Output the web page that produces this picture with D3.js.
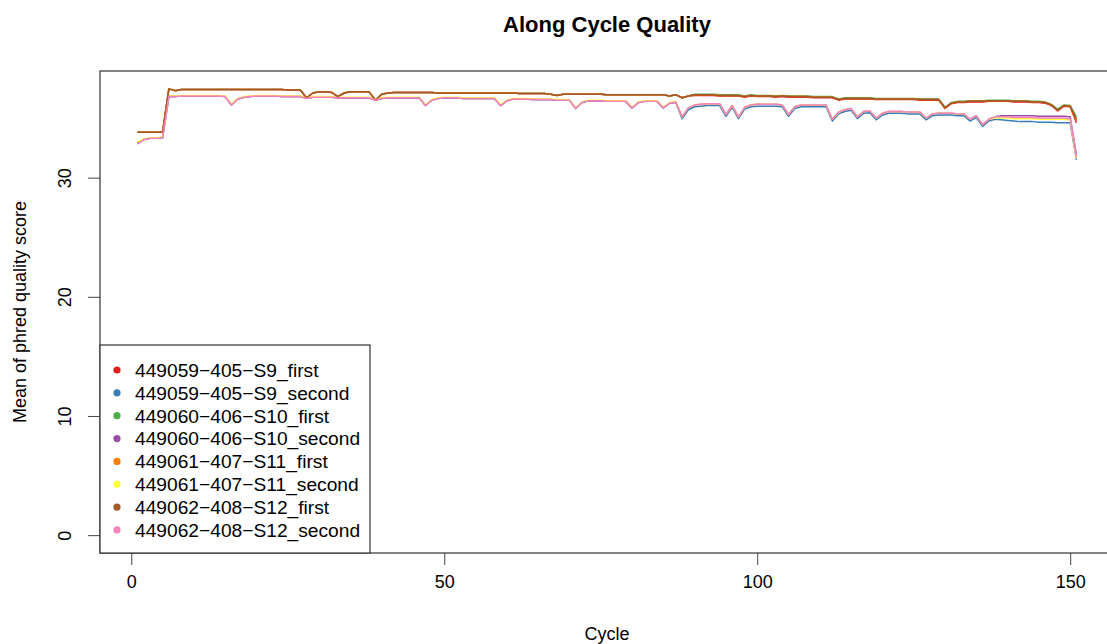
<!DOCTYPE html>
<html>
<head>
<meta charset="utf-8">
<script src="https://cdn.jsdelivr.net/npm/d3@7"></script>
<style>
    body { margin: 0; background: #fff; }
    text { font-family: "Liberation Sans", Arial, Helvetica, sans-serif; fill: #000; }
</style>
</head>
<body>
<div id="chart"></div>
<script>
const width = 1107,
    height = 644;

// Mean phred quality per cycle (cycles 1..151), one array per sample read
const red_first = [
    33.8, 33.8, 33.8, 33.8, 33.8, 37.45, 37.3, 37.4, 37.4, 37.4,
    37.4, 37.4, 37.4, 37.4, 37.4, 37.4, 37.4, 37.4, 37.4, 37.4,
    37.4, 37.4, 37.4, 37.4, 37.35, 37.35, 37.35, 36.7, 37.1, 37.2,
    37.2, 37.15, 36.8, 37.1, 37.2, 37.2, 37.2, 37.2, 36.5, 37.0,
    37.1, 37.15, 37.15, 37.15, 37.15, 37.15, 37.15, 37.15, 37.1, 37.1,
    37.1, 37.1, 37.1, 37.1, 37.1, 37.1, 37.1, 37.1, 37.1, 37.1,
    37.1, 37.05, 37.05, 37.05, 37.05, 37.05, 37.0, 36.9, 37.0, 37.0,
    37.0, 37.0, 37.0, 37.0, 37.0, 36.95, 36.95, 36.95, 36.95, 36.95,
    36.95, 36.95, 36.95, 36.95, 36.95, 36.85, 36.95, 36.7, 36.85, 36.9,
    36.9, 36.9, 36.9, 36.85, 36.85, 36.85, 36.85, 36.75, 36.85, 36.8,
    36.8, 36.8, 36.75, 36.8, 36.75, 36.75, 36.75, 36.75, 36.7, 36.7,
    36.7, 36.7, 36.5, 36.6, 36.6, 36.6, 36.6, 36.6, 36.55, 36.55,
    36.55, 36.55, 36.55, 36.55, 36.55, 36.5, 36.5, 36.5, 36.5, 35.8,
    36.2, 36.3, 36.3, 36.35, 36.35, 36.35, 36.4, 36.4, 36.4, 36.4,
    36.35, 36.35, 36.35, 36.3, 36.3, 36.25, 36.05, 35.6, 36.0, 35.95,
    34.6];
const blue_second = [
    32.9, 33.2, 33.3, 33.3, 33.35, 36.8, 36.8, 36.85, 36.85, 36.85,
    36.85, 36.85, 36.85, 36.85, 36.8, 36.1, 36.6, 36.75, 36.8, 36.85,
    36.85, 36.85, 36.85, 36.8, 36.8, 36.8, 36.8, 36.65, 36.75, 36.75,
    36.75, 36.75, 36.7, 36.7, 36.7, 36.7, 36.7, 36.7, 36.5, 36.65,
    36.7, 36.7, 36.7, 36.7, 36.7, 36.7, 36.05, 36.5, 36.65, 36.7,
    36.7, 36.7, 36.65, 36.65, 36.65, 36.65, 36.65, 36.65, 36.05, 36.45,
    36.6, 36.6, 36.6, 36.55, 36.55, 36.55, 36.55, 36.5, 36.5, 36.5,
    35.8, 36.3, 36.45, 36.45, 36.45, 36.4, 36.4, 36.4, 36.4, 35.85,
    36.3, 36.4, 36.4, 36.4, 35.85, 36.25, 36.3, 34.95, 35.7, 35.95,
    36.0, 36.05, 36.05, 36.05, 35.15, 35.9, 34.95, 35.75, 35.95, 36.0,
    36.0, 36.0, 36.0, 35.95, 35.15, 35.8, 35.95, 35.95, 35.95, 35.95,
    35.95, 34.75, 35.35, 35.55, 35.65, 34.95, 35.4, 35.45, 34.85, 35.25,
    35.4, 35.4, 35.4, 35.35, 35.35, 35.35, 34.85, 35.2, 35.25, 35.25,
    35.25, 35.2, 35.2, 34.75, 35.05, 34.3, 34.75, 34.9, 34.85, 34.8,
    34.75, 34.7, 34.7, 34.7, 34.65, 34.65, 34.65, 34.6, 34.6, 34.6,
    31.5];
const green_first = [
    33.8, 33.8, 33.8, 33.8, 33.8, 37.45, 37.3, 37.4, 37.4, 37.4,
    37.4, 37.4, 37.4, 37.4, 37.4, 37.4, 37.4, 37.4, 37.4, 37.4,
    37.4, 37.4, 37.4, 37.4, 37.35, 37.35, 37.35, 36.7, 37.1, 37.2,
    37.2, 37.15, 36.8, 37.1, 37.2, 37.2, 37.2, 37.2, 36.5, 37.0,
    37.1, 37.15, 37.15, 37.15, 37.15, 37.15, 37.15, 37.15, 37.1, 37.1,
    37.1, 37.1, 37.1, 37.1, 37.1, 37.1, 37.1, 37.1, 37.1, 37.1,
    37.1, 37.05, 37.05, 37.05, 37.05, 37.05, 37.0, 36.9, 37.0, 37.0,
    37.0, 37.0, 37.0, 37.0, 37.0, 36.95, 36.95, 36.95, 36.95, 36.95,
    36.95, 36.95, 36.95, 36.95, 36.95, 36.85, 36.95, 36.7, 36.85, 37.0,
    37.0, 37.0, 37.0, 36.95, 36.95, 36.95, 36.95, 36.85, 36.95, 36.9,
    36.9, 36.9, 36.85, 36.9, 36.85, 36.85, 36.85, 36.85, 36.8, 36.8,
    36.8, 36.8, 36.6, 36.7, 36.7, 36.7, 36.7, 36.7, 36.65, 36.65,
    36.65, 36.65, 36.65, 36.65, 36.65, 36.6, 36.6, 36.6, 36.6, 35.9,
    36.3, 36.4, 36.4, 36.45, 36.45, 36.45, 36.5, 36.5, 36.5, 36.5,
    36.45, 36.45, 36.45, 36.4, 36.4, 36.35, 36.15, 35.75, 36.1, 36.05,
    35.1];
const purple_second = [
    32.9, 33.2, 33.3, 33.3, 33.35, 36.8, 36.8, 36.85, 36.85, 36.85,
    36.85, 36.85, 36.85, 36.85, 36.8, 36.1, 36.6, 36.75, 36.8, 36.85,
    36.85, 36.85, 36.85, 36.8, 36.8, 36.8, 36.8, 36.65, 36.75, 36.75,
    36.75, 36.75, 36.7, 36.7, 36.7, 36.7, 36.7, 36.7, 36.5, 36.65,
    36.7, 36.7, 36.7, 36.7, 36.7, 36.7, 36.05, 36.5, 36.65, 36.7,
    36.7, 36.7, 36.65, 36.65, 36.65, 36.65, 36.65, 36.65, 36.05, 36.45,
    36.6, 36.6, 36.6, 36.55, 36.55, 36.55, 36.55, 36.5, 36.5, 36.5,
    35.8, 36.3, 36.45, 36.45, 36.45, 36.4, 36.4, 36.4, 36.4, 35.85,
    36.3, 36.4, 36.4, 36.4, 35.85, 36.25, 36.35, 35.1, 35.85, 36.1,
    36.15, 36.2, 36.2, 36.2, 35.3, 36.05, 35.1, 35.9, 36.1, 36.15,
    36.15, 36.15, 36.15, 36.1, 35.3, 35.95, 36.1, 36.1, 36.1, 36.1,
    36.1, 34.9, 35.5, 35.7, 35.8, 35.1, 35.55, 35.6, 35.0, 35.4,
    35.55, 35.55, 35.55, 35.5, 35.5, 35.5, 35.0, 35.35, 35.4, 35.4,
    35.4, 35.35, 35.35, 34.9, 35.2, 34.45, 34.9, 35.1, 35.2, 35.2,
    35.2, 35.2, 35.2, 35.2, 35.15, 35.15, 35.15, 35.15, 35.15, 35.1,
    31.9];
const orange_first = [
    33.8, 33.8, 33.8, 33.8, 33.8, 37.45, 37.3, 37.4, 37.4, 37.4,
    37.4, 37.4, 37.4, 37.4, 37.4, 37.4, 37.4, 37.4, 37.4, 37.4,
    37.4, 37.4, 37.4, 37.4, 37.35, 37.35, 37.35, 36.7, 37.1, 37.2,
    37.2, 37.15, 36.8, 37.1, 37.2, 37.2, 37.2, 37.2, 36.5, 37.0,
    37.1, 37.15, 37.15, 37.15, 37.15, 37.15, 37.15, 37.15, 37.1, 37.1,
    37.1, 37.1, 37.1, 37.1, 37.1, 37.1, 37.1, 37.1, 37.1, 37.1,
    37.1, 37.05, 37.05, 37.05, 37.05, 37.05, 37.0, 36.9, 37.0, 37.0,
    37.0, 37.0, 37.0, 37.0, 37.0, 36.95, 36.95, 36.95, 36.95, 36.95,
    36.95, 36.95, 36.95, 36.95, 36.95, 36.85, 36.95, 36.7, 36.85, 36.95,
    36.95, 36.95, 36.95, 36.9, 36.9, 36.9, 36.9, 36.8, 36.9, 36.85,
    36.85, 36.85, 36.8, 36.85, 36.8, 36.8, 36.8, 36.8, 36.75, 36.75,
    36.75, 36.75, 36.55, 36.65, 36.65, 36.65, 36.65, 36.65, 36.6, 36.6,
    36.6, 36.6, 36.6, 36.6, 36.6, 36.55, 36.55, 36.55, 36.55, 35.85,
    36.25, 36.35, 36.35, 36.4, 36.4, 36.4, 36.45, 36.45, 36.45, 36.45,
    36.4, 36.4, 36.4, 36.35, 36.35, 36.3, 36.1, 35.65, 36.05, 36.0,
    34.8];
const yellow_second = [
    33.0, 33.25, 33.35, 33.35, 33.4, 36.85, 36.85, 36.9, 36.9, 36.9,
    36.9, 36.9, 36.9, 36.9, 36.85, 36.15, 36.65, 36.8, 36.85, 36.9,
    36.9, 36.9, 36.9, 36.85, 36.85, 36.85, 36.85, 36.7, 36.8, 36.8,
    36.8, 36.8, 36.75, 36.75, 36.75, 36.75, 36.75, 36.75, 36.55, 36.7,
    36.75, 36.75, 36.75, 36.75, 36.75, 36.75, 36.1, 36.55, 36.7, 36.75,
    36.75, 36.75, 36.7, 36.7, 36.7, 36.7, 36.7, 36.7, 36.1, 36.5,
    36.65, 36.65, 36.65, 36.6, 36.6, 36.6, 36.6, 36.55, 36.55, 36.55,
    35.85, 36.35, 36.5, 36.5, 36.5, 36.45, 36.45, 36.45, 36.45, 35.9,
    36.35, 36.45, 36.45, 36.45, 35.9, 36.3, 36.4, 35.1, 35.85, 36.1,
    36.15, 36.2, 36.2, 36.2, 35.3, 36.05, 35.1, 35.9, 36.1, 36.15,
    36.15, 36.15, 36.15, 36.1, 35.3, 35.95, 36.1, 36.1, 36.1, 36.1,
    36.1, 34.9, 35.5, 35.7, 35.8, 35.1, 35.55, 35.6, 35.0, 35.4,
    35.55, 35.55, 35.55, 35.5, 35.5, 35.5, 35.0, 35.35, 35.4, 35.4,
    35.4, 35.35, 35.35, 34.9, 35.2, 34.45, 34.9, 35.0, 35.0, 35.0,
    34.95, 34.95, 34.95, 34.95, 34.9, 34.9, 34.9, 34.9, 34.9, 34.85,
    31.6];
const brown_first = [
    33.8, 33.8, 33.8, 33.8, 33.8, 37.45, 37.3, 37.4, 37.4, 37.4,
    37.4, 37.4, 37.4, 37.4, 37.4, 37.4, 37.4, 37.4, 37.4, 37.4,
    37.4, 37.4, 37.4, 37.4, 37.35, 37.35, 37.35, 36.7, 37.1, 37.2,
    37.2, 37.15, 36.8, 37.1, 37.2, 37.2, 37.2, 37.2, 36.5, 37.0,
    37.1, 37.15, 37.15, 37.15, 37.15, 37.15, 37.15, 37.15, 37.1, 37.1,
    37.1, 37.1, 37.1, 37.1, 37.1, 37.1, 37.1, 37.1, 37.1, 37.1,
    37.1, 37.05, 37.05, 37.05, 37.05, 37.05, 37.0, 36.9, 37.0, 37.0,
    37.0, 37.0, 37.0, 37.0, 37.0, 36.95, 36.95, 36.95, 36.95, 36.95,
    36.95, 36.95, 36.95, 36.95, 36.95, 36.85, 36.95, 36.7, 36.85, 36.95,
    36.95, 36.95, 36.95, 36.9, 36.9, 36.9, 36.9, 36.8, 36.9, 36.85,
    36.85, 36.85, 36.8, 36.85, 36.8, 36.8, 36.8, 36.8, 36.75, 36.75,
    36.75, 36.75, 36.55, 36.65, 36.65, 36.65, 36.65, 36.65, 36.6, 36.6,
    36.6, 36.6, 36.6, 36.6, 36.6, 36.55, 36.55, 36.55, 36.55, 35.85,
    36.25, 36.35, 36.35, 36.4, 36.4, 36.4, 36.45, 36.45, 36.45, 36.45,
    36.4, 36.4, 36.4, 36.35, 36.35, 36.3, 36.1, 35.65, 36.05, 36.0,
    34.9];
const pink_second = [
    32.8, 33.2, 33.3, 33.3, 33.35, 36.8, 36.8, 36.85, 36.85, 36.85,
    36.85, 36.85, 36.85, 36.85, 36.8, 36.1, 36.6, 36.75, 36.8, 36.85,
    36.85, 36.85, 36.85, 36.8, 36.8, 36.8, 36.8, 36.65, 36.75, 36.75,
    36.75, 36.75, 36.7, 36.7, 36.7, 36.7, 36.7, 36.7, 36.5, 36.65,
    36.7, 36.7, 36.7, 36.7, 36.7, 36.7, 36.05, 36.5, 36.65, 36.7,
    36.7, 36.7, 36.65, 36.65, 36.65, 36.65, 36.65, 36.65, 36.05, 36.45,
    36.6, 36.6, 36.6, 36.55, 36.55, 36.55, 36.55, 36.5, 36.5, 36.5,
    35.8, 36.3, 36.45, 36.45, 36.45, 36.4, 36.4, 36.4, 36.4, 35.85,
    36.3, 36.4, 36.4, 36.4, 35.85, 36.25, 36.35, 35.1, 35.85, 36.1,
    36.15, 36.2, 36.2, 36.2, 35.3, 36.05, 35.1, 35.9, 36.1, 36.15,
    36.15, 36.15, 36.15, 36.1, 35.3, 35.95, 36.1, 36.1, 36.1, 36.1,
    36.1, 34.9, 35.5, 35.7, 35.8, 35.1, 35.55, 35.6, 35.0, 35.4,
    35.55, 35.55, 35.55, 35.5, 35.5, 35.5, 35.0, 35.35, 35.4, 35.4,
    35.4, 35.35, 35.35, 34.9, 35.2, 34.45, 34.9, 35.1, 35.1, 35.1,
    35.05, 35.05, 35.05, 35.05, 35.0, 35.0, 35.0, 35.0, 35.0, 34.95,
    31.7];

const sampleNames = [
    "449059-405-S9_first", "449059-405-S9_second",
    "449060-406-S10_first", "449060-406-S10_second",
    "449061-407-S11_first", "449061-407-S11_second",
    "449062-408-S12_first", "449062-408-S12_second"];
const sampleValues = [red_first, blue_second, green_first, purple_second,
    orange_first, yellow_second, brown_first, pink_second];
// RColorBrewer Set1
const sampleColors = ["#E41A1C", "#377EB8", "#4DAF4A", "#984EA3",
    "#FF7F00", "#FFFF33", "#A65628", "#F781BF"];

const xTicks = [0, 50, 100, 150];
const yTicks = [0, 10, 20, 30];

const margin = {left: 100, top: 71, right: 1114, bottom: 553};

let svg = d3.select('#chart').append('svg')
    .attr('width', width)
    .attr('height', height);

// R style limits: data range padded by 4% on each side
let x = d3.scaleLinear()
    .domain([1 - 0.04 * 150, 151 + 0.04 * 150])
    .range([margin.left, margin.right]);

let yMax = d3.max(sampleValues, s => d3.max(s));
let y = d3.scaleLinear()
    .domain([-0.04 * yMax, yMax * 1.04])
    .range([margin.bottom, margin.top]);

svg.append("text")
    .attr("x", (margin.left + margin.right) / 2)
    .attr("y", 32)
    .attr("text-anchor", "middle")
    .style("font-weight", "bold")
    .style("font-size", "22px")
    .text("Along Cycle Quality");

// Lines, drawn in legend order
let line = d3.line()
    .x((d, i) => x(i + 1))
    .y(d => y(d));

svg.append("g")
    .selectAll("path")
    .data(sampleValues)
    .enter()
    .append("path")
    .attr("d", line)
    .attr("fill", "none")
    .attr("stroke", (d, i) => sampleColors[i])
    .attr("stroke-width", 1.5)
    .attr("stroke-linejoin", "round");

// Axes
let xAxis = svg.append("g")
    .attr("transform", "translate(0," + margin.bottom + ")")
    .call(d3.axisBottom(x).tickValues(xTicks).tickSize(12).tickPadding(10));

let yAxis = svg.append("g")
    .attr("transform", "translate(" + margin.left + ",0)")
    .call(d3.axisLeft(y).tickValues(yTicks).tickSize(12).tickPadding(0));

[xAxis, yAxis].forEach(a => {
    a.select(".domain").remove();
    a.selectAll("line").attr("stroke", "#444");
    a.selectAll("text")
        .style("font-size", "18px")
        .style("font-family", '"Liberation Sans", Arial, sans-serif')
        .attr("fill", "#000");
});

// rotated y tick labels, like R's las = 0
yAxis.selectAll(".tick text")
    .attr("x", null)
    .attr("dy", null)
    .attr("text-anchor", "middle")
    .attr("transform", "translate(-34,0) rotate(-90)")
    .attr("y", 0)
    .attr("dominant-baseline", "middle");

// plot box
svg.append("rect")
    .attr("x", margin.left)
    .attr("y", margin.top)
    .attr("width", margin.right - margin.left)
    .attr("height", margin.bottom - margin.top)
    .attr("fill", "none")
    .attr("stroke", "#333")
    .attr("stroke-width", 1.2);

svg.append("text")
    .attr("x", (margin.left + margin.right) / 2)
    .attr("y", 640)
    .attr("text-anchor", "middle")
    .style("font-size", "18px")
    .text("Cycle");

svg.append("text")
    .attr("transform", "translate(26," + (margin.top + margin.bottom) / 2 + ") rotate(-90)")
    .attr("text-anchor", "middle")
    .style("font-size", "18px")
    .text("Mean of phred quality score");

// Legend, bottom left
let legend = svg.append("g");

legend.append("rect")
    .attr("x", margin.left)
    .attr("y", 345)
    .attr("width", 270)
    .attr("height", margin.bottom - 345)
    .attr("fill", "#fff")
    .attr("stroke", "#333")
    .attr("stroke-width", 1.2);

let items = legend.selectAll(".item")
    .data(sampleNames)
    .enter()
    .append("g")
    .attr("transform", (d, i) => "translate(0," + (370 + i * 22.85) + ")");

items.append("circle")
    .attr("cx", 117)
    .attr("cy", 0)
    .attr("r", 3.6)
    .attr("fill", (d, i) => sampleColors[i]);

items.append("text")
    .attr("x", 135)
    .attr("y", 0)
    .attr("dy", "0.36em")
    .style("font-size", "19.2px")
    .text(d => d.replace(/-/g, "\u2212"));
</script>
</body>
</html>
